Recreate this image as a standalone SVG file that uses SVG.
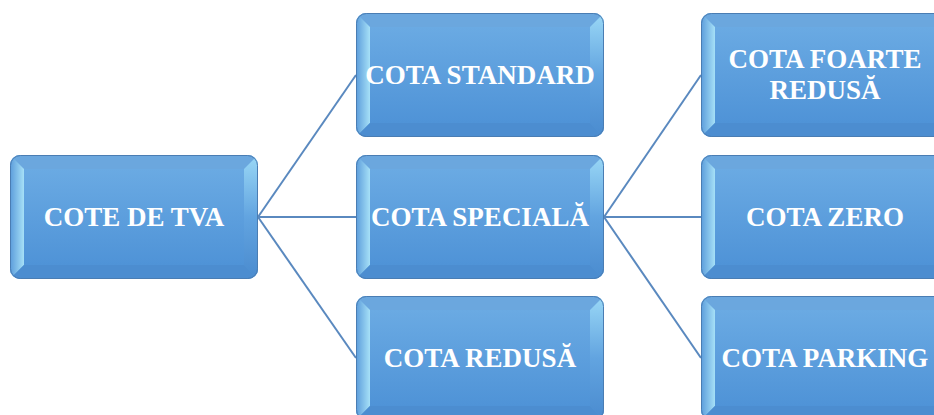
<svg xmlns="http://www.w3.org/2000/svg" xmlns:xlink="http://www.w3.org/1999/xlink" width="934" height="415" viewBox="0 0 934 415">
<style>
.lbl{font-family:"Liberation Serif","Times New Roman",serif;font-weight:bold;font-size:27px;fill:#ffffff;text-anchor:middle}
.conn{stroke:#5a89bf;stroke-width:2;fill:none}
</style>
<defs>
<linearGradient id="gInner" x1="0" y1="0" x2="0" y2="1">
<stop offset="0" stop-color="#6aaae3"/>
<stop offset="1" stop-color="#4f93d7"/>
</linearGradient>
<linearGradient id="gLeft" x1="0" y1="0" x2="1" y2="0">
<stop offset="0" stop-color="#5b9cdb"/>
<stop offset="1" stop-color="#a6e0f7"/>
</linearGradient>
<linearGradient id="gRight" x1="0" y1="0" x2="0" y2="1">
<stop offset="0" stop-color="#9ad8f6"/>
<stop offset="0.5" stop-color="#62a4e0"/>
<stop offset="1" stop-color="#4a8bcf"/>
</linearGradient>
<clipPath id="cp"><rect x="0" y="0" width="248" height="124" rx="10"/></clipPath>
<g id="box">
<g clip-path="url(#cp)">
<rect x="0" y="0" width="248" height="124" fill="url(#gInner)"/>
<polygon points="0,0 248,0 234,14 14,14" fill="#6ba7de"/>
<polygon points="0,0 14,14 14,110 0,124" fill="url(#gLeft)"/>
<polygon points="248,0 248,124 234,110 234,14" fill="url(#gRight)"/>
<polygon points="0,124 14,110 234,110 248,124" fill="#4c8dd0"/>
<rect x="14" y="14" width="220" height="96" fill="url(#gInner)"/>
</g>
<rect x="0.5" y="0.5" width="247" height="123" rx="10" fill="none" stroke="#4a7db3" stroke-width="1"/>
</g>
</defs>
<g id="connectors">
<line class="conn" x1="258" y1="217" x2="356" y2="75"/>
<line class="conn" x1="258" y1="217" x2="356" y2="217"/>
<line class="conn" x1="258" y1="217" x2="356" y2="358"/>
<line class="conn" x1="604" y1="217" x2="701" y2="75"/>
<line class="conn" x1="604" y1="217" x2="701" y2="217"/>
<line class="conn" x1="604" y1="217" x2="701" y2="358"/>
</g>
<g id="n-root" transform="translate(10,155)"><use xlink:href="#box"/><text class="lbl" x="124" y="71">COTE DE TVA</text></g>
<g id="n-standard" transform="translate(356,13)"><use xlink:href="#box"/><text class="lbl" x="124" y="71">COTA STANDARD</text></g>
<g id="n-speciala" transform="translate(356,155)"><use xlink:href="#box"/><text class="lbl" x="124" y="71">COTA SPECIALĂ</text></g>
<g id="n-redusa" transform="translate(356,296)"><use xlink:href="#box"/><text class="lbl" x="124" y="71">COTA REDUSĂ</text></g>
<g id="n-foarte" transform="translate(701,13)"><use xlink:href="#box"/><text class="lbl" x="124" y="55">COTA FOARTE</text><text class="lbl" x="124" y="86">REDUSĂ</text></g>
<g id="n-zero" transform="translate(701,155)"><use xlink:href="#box"/><text class="lbl" x="124" y="71">COTA ZERO</text></g>
<g id="n-parking" transform="translate(701,296)"><use xlink:href="#box"/><text class="lbl" x="124" y="71">COTA PARKING</text></g>
</svg>
